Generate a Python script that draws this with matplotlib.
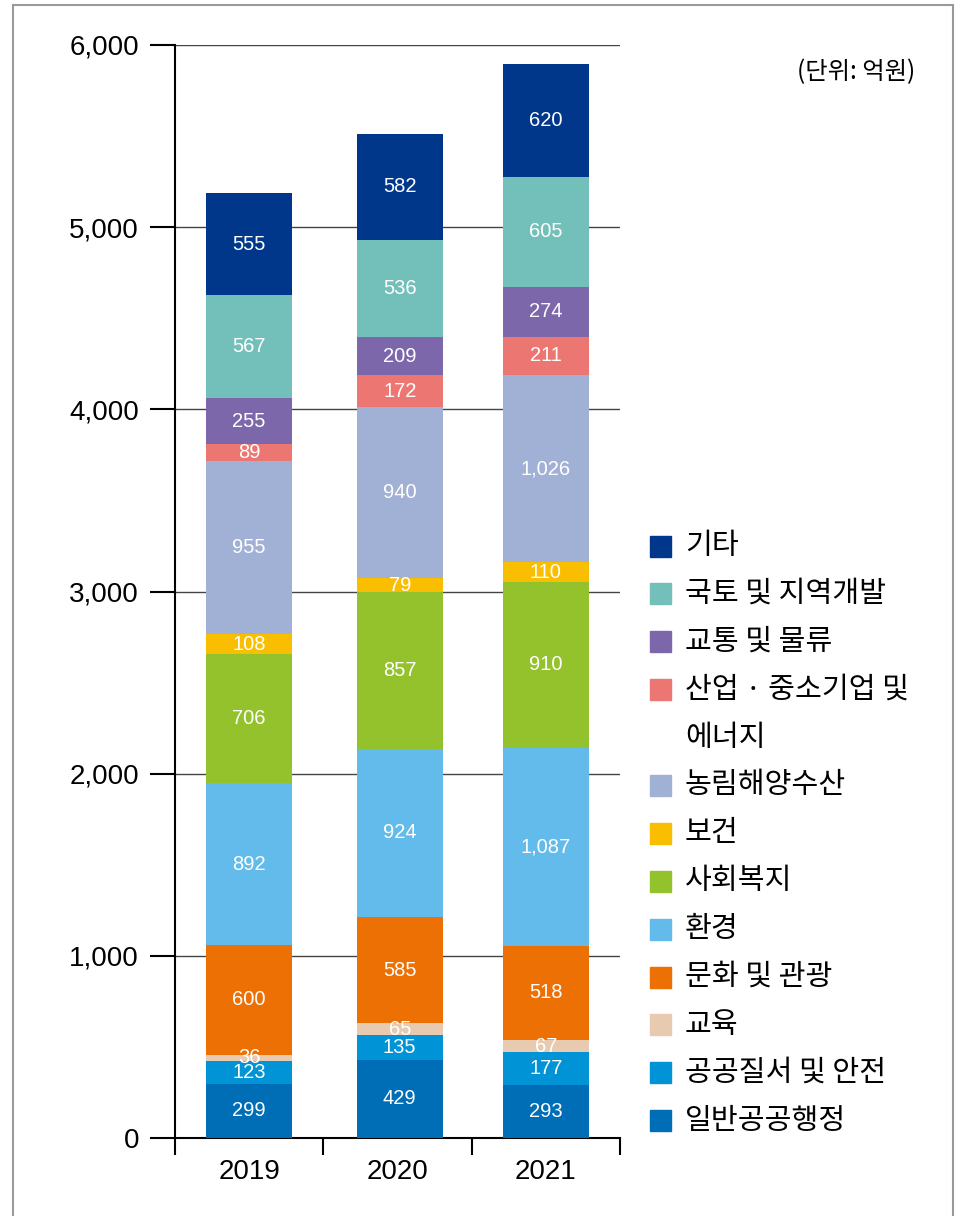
import matplotlib
matplotlib.use("Agg")
import matplotlib.pyplot as plt
from matplotlib.patches import Rectangle
import numpy as np

plt.rcParams["font.family"] = ["Liberation Sans", "Noto Sans CJK KR", "DejaVu Sans"]

# 연도 / 분야 (아래 → 위 누적 순서)
years = ["2019", "2020", "2021"]
categories = [
    "일반공공행정", "공공질서 및 안전", "교육", "문화 및 관광", "환경", "사회복지",
    "보건", "농림해양수산", "산업 · 중소기업 및\n에너지", "교통 및 물류",
    "국토 및 지역개발", "기타",
]
values = {
    "일반공공행정": [299, 429, 293],
    "공공질서 및 안전": [123, 135, 177],
    "교육": [36, 65, 67],
    "문화 및 관광": [600, 585, 518],
    "환경": [892, 924, 1087],
    "사회복지": [706, 857, 910],
    "보건": [108, 79, 110],
    "농림해양수산": [955, 940, 1026],
    "산업 · 중소기업 및\n에너지": [89, 172, 211],
    "교통 및 물류": [255, 209, 274],
    "국토 및 지역개발": [567, 536, 605],
    "기타": [555, 582, 620],
}
colors = [
    "#006eb6", "#0093d6", "#e8cab0", "#ec7004", "#62bbea", "#93c22d",
    "#f9be00", "#a1b0d5", "#ec7672", "#7c67ab", "#73bfba", "#00378b",
]

W, H = 964, 1216
fig = plt.figure(figsize=(W / 100, H / 100), dpi=100)

# 바깥 회색 테두리 (아래쪽은 잘린 형태)
fig.add_artist(Rectangle((13 / W, -0.02), (953 - 13) / W, (H - 5) / H + 0.02,
                         transform=fig.transFigure, fill=False,
                         edgecolor="#9a9a9a", linewidth=1.5))

ax = fig.add_axes([175 / W, (H - 1138) / H, 445 / W, (1138 - 45) / H])

x = np.arange(len(years)) + np.array([0.0, 0.015, 0.0])
bottom = np.zeros(len(years))
for cat, col in zip(categories, colors):
    v = np.array(values[cat], dtype=float)
    ax.bar(x, v, bottom=bottom, width=0.58, color=col, zorder=3)
    for xi, vi, bi in zip(x, v, bottom):
        ax.text(xi, bi + vi / 2, f"{int(vi):,}", ha="center", va="center",
                color="white", fontsize=14.5, zorder=4)
    bottom += v

ax.set_xlim(-0.5, 2.5)
ax.set_ylim(0, 6000)
ax.set_yticks(range(0, 6001, 1000))
ax.set_yticklabels([f"{t:,}" for t in range(0, 6001, 1000)], fontsize=20)
ax.grid(axis="y", color="#444444", linewidth=1.0, zorder=0)

ax.set_xticks(np.arange(len(years)))
ax.set_xticklabels(years, fontsize=20)
ax.set_xticks([-0.5, 0.5, 1.5, 2.5], minor=True)
ax.tick_params(axis="x", which="major", length=0, pad=15)
ax.tick_params(axis="x", which="minor", length=12, width=1.5, direction="out")
ax.tick_params(axis="y", length=18, width=1.5, pad=8)

for s in ("top", "right"):
    ax.spines[s].set_visible(False)
for s in ("left", "bottom"):
    ax.spines[s].set_linewidth(1.5)

# 단위
fig.text(915 / W, 1 - 72 / H, "(단위: 억원)", ha="right", va="center",
         fontsize=17.5, family=["Noto Sans CJK KR", "DejaVu Sans"])

# 범례 (위 → 아래)
y_px = 546
step = 47.9
for cat, col in zip(categories[::-1], colors[::-1]):
    fig.add_artist(Rectangle((650 / W, 1 - (y_px + 10.5) / H), 21 / W, 21 / H,
                             transform=fig.transFigure, color=col))
    lines = cat.split("\n")
    for j, line in enumerate(lines):
        fig.text(685 / W, 1 - (y_px + j * step) / H, line, ha="left", va="center",
                 fontsize=21, family=["Noto Sans CJK KR", "DejaVu Sans"])
    y_px += step * len(lines)

fig.savefig("out.png", dpi=100)
